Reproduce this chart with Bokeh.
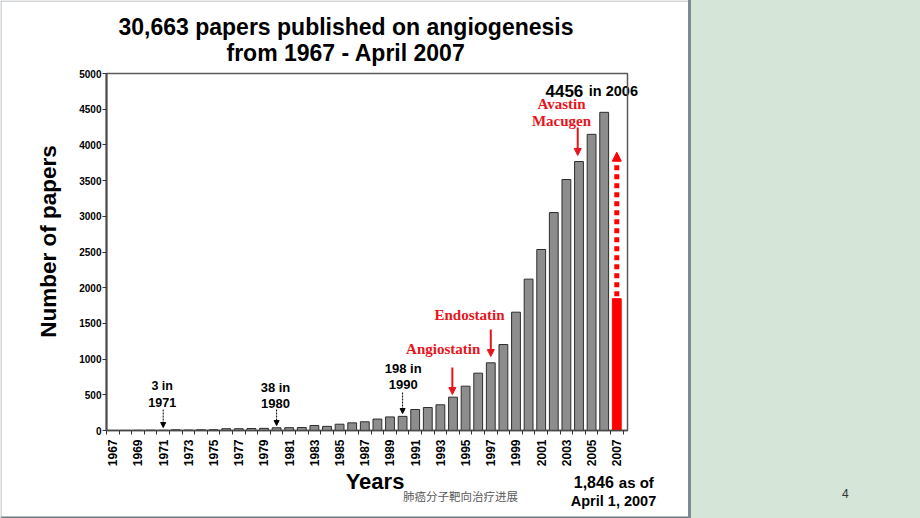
import math
from bokeh.plotting import figure
from bokeh.models import (Range1d, FixedTicker, Label, Arrow, NormalHead, Div, GridBox)
from bokeh.embed import file_html
from bokeh.resources import INLINE

# ---------------- data ----------------
years = list(range(1967, 2008))
papers = [1, 1, 2, 4, 3, 10, 6, 10, 11, 25,
          25, 28, 30, 38, 40, 42, 70, 58, 88, 107,
          122, 160, 190, 198, 294, 322, 360, 467, 621, 803,
          948, 1204, 1657, 2120, 2535, 3053, 3515, 3767, 4148, 4456,
          1846]
year_labels = [str(y) for y in range(1967, 2008, 2)]
y_ticks = list(range(0, 5001, 500))

SANS = "Liberation Sans"
SERIF = "Liberation Serif"
RED = "#e8141c"

# ---------------- chart layer ----------------
p = figure(width=688, height=518, x_range=Range1d(1966.5, 2007.85),
           y_range=Range1d(0, 5000), output_backend="svg",
           toolbar_location=None, title=None,
           min_border_left=106, min_border_right=61,
           min_border_top=73, min_border_bottom=88)
p.background_fill_alpha = 0
p.border_fill_alpha = 0
p.outline_line_color = "#5a5a5a"
p.outline_line_width = 1.5
p.xgrid.visible = False
p.ygrid.visible = False

p.vbar(x=years[:-1], top=papers[:-1], width=0.7, fill_color="#8d8d8d",
       line_color="#2e2e2e", line_width=1)
p.vbar(x=years[-1:], top=papers[-1:], width=0.7, fill_color="#ff0000",
       line_color="#ff0000", line_width=1)

xa = p.xaxis[0]
xa.ticker = FixedTicker(ticks=[int(s) for s in year_labels],
                        minor_ticks=[y - 0.5 for y in years] + [years[-1] + 0.5])
xa.major_label_orientation = math.pi / 2
xa.major_tick_line_color = None
xa.minor_tick_in = 0
xa.minor_tick_out = 4
xa.minor_tick_line_color = "#333333"
xa.axis_line_color = "#4a4a4a"
xa.axis_line_width = 1.5
xa.major_label_text_font = SANS
xa.major_label_text_font_style = "bold"
xa.major_label_text_font_size = "12px"
xa.major_label_text_color = "black"
xa.major_label_standoff = 3

ya = p.yaxis[0]
ya.ticker = FixedTicker(ticks=y_ticks)
ya.major_tick_in = 0
ya.major_tick_out = 4
ya.minor_tick_line_color = None
ya.major_tick_line_color = "#333333"
ya.axis_line_color = "#4a4a4a"
ya.axis_line_width = 2
ya.major_label_text_font = SANS
ya.major_label_text_font_style = "bold"
ya.major_label_text_font_size = "10px"
ya.major_label_text_color = "black"
ya.major_label_standoff = 1


def lab(fig, x, y, text, size, color="black", font=SANS, align="center", angle=0,
        style="bold"):
    fig.add_layout(Label(x=x, y=y, text=text, text_font=font, text_font_size=size,
                         text_font_style=style, text_color=color, text_align=align,
                         text_baseline="middle", angle=angle))


def arrow(x, y0, y1, color, width, dash, head):
    p.add_layout(Arrow(x_start=x, y_start=y0, x_end=x, y_end=y1,
                       line_color=color, line_width=width, line_dash=dash,
                       end=NormalHead(size=head, fill_color=color, line_color=color,
                                      line_width=1)))


# red drug notes
lab(p, 2002.61, 4566, "Avastin", "15px", color=RED, font=SERIF)
lab(p, 2002.61, 4328, "Macugen", "15px", color=RED, font=SERIF)
arrow(2003.9, 4244, 3852, RED, 2, "solid", 7)
lab(p, 1995.31, 1611, "Endostatin", "15px", color=RED, font=SERIF)
arrow(1997.0, 1415, 1036, RED, 2, "solid", 7)
lab(p, 1993.22, 1148, "Angiostatin", "15px", color=RED, font=SERIF)
arrow(1993.95, 882, 504, RED, 2, "solid", 7)

# black notes
lab(p, 1970.92, 620, "3 in", "12.5px")
lab(p, 1970.92, 396, "1971", "12.5px")
arrow(1971.0, 294, 42, "black", 1, "2 1", 5)
lab(p, 1979.91, 602, "38 in", "13px")
lab(p, 1979.91, 378, "1980", "13px")
arrow(1980.0, 294, 70, "black", 1, "2 1", 5)
lab(p, 1990.05, 868, "198 in", "13px")
lab(p, 1990.05, 644, "1990", "13px")
arrow(1990.0, 532, 238, "black", 1, "2 1", 5)

# dotted red arrow above the partial 2007 bar
arrow(2007.0, 1880, 3898, "#ff0000", 5, "5 4", 9)

# ---------------- slide / text layer (pixel coordinates, y up) ----------------
bg = figure(width=688, height=518, x_range=Range1d(0, 688), y_range=Range1d(0, 518),
            output_backend="svg", toolbar_location=None, title=None,
            x_axis_type=None, y_axis_type=None, min_border=0,
            min_border_left=0, min_border_right=0, min_border_top=0, min_border_bottom=0)
bg.background_fill_color = "white"
bg.border_fill_color = "white"
bg.outline_line_color = None
# slide frame lines
bg.quad(left=[0, 0, 0], right=[688, 688, 1], bottom=[517, 0, 0], top=[518, 2, 518],
        fill_color=["#a7b0b5", "#6f7c83", "#a7b0b5"], line_color=None)

lab(bg, 345.5, 492, "30,663 papers published on angiogenesis", "23px")
lab(bg, 345.5, 466, "from 1967 - April 2007", "23px")
lab(bg, 48, 277, "Number of papers", "22.5px", angle=math.pi / 2)
lab(bg, 374.5, 37.3, "Years", "22px")
lab(bg, 613.3, 36.3, "1,846", "16px", align="right")
lab(bg, 618.3, 36.3, "as of", "15px", align="left")
lab(bg, 613, 18, "April 1, 2007", "14.5px")
lab(bg, 545, 427.3, "4456", "17px", align="left")
lab(bg, 588.3, 427.3, "in 2006", "14.5px", align="left")
lab(bg, 460, 23, "肺癌分子靶向治疗进展", "11.5px", color="#5a5a5a",
    font="Noto Sans CJK SC", style="normal")

# ---------------- right green panel ----------------
g = Div(width=232, height=518, margin=0,
        styles={"background-color": "#d5e5d7", "border-left": "3px solid #7d8a91",
                "box-sizing": "border-box"},
        text=('<div style="padding-top:486px;padding-left:151px;'
              'font-family:\'Liberation Sans\';font-size:12px;color:#333333;">4</div>'))

layout = GridBox(children=[(bg, 0, 0, 3, 3), (p, 1, 1, 1, 1), (g, 0, 3, 3, 1)],
                 spacing=0)
open("out.html", "w").write(file_html(layout, INLINE))
